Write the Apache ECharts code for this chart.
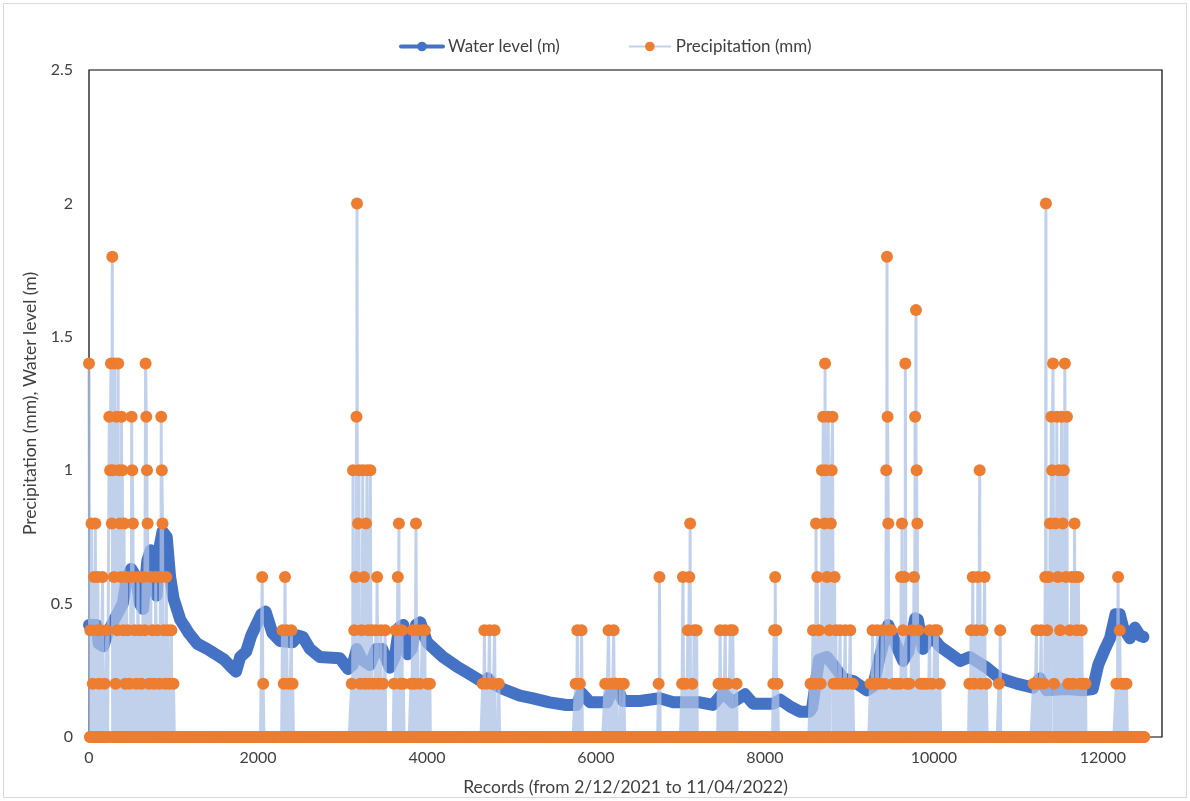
<!DOCTYPE html>
<html><head><meta charset="utf-8">
<script src="https://cdn.jsdelivr.net/npm/echarts@6/dist/echarts.min.js"></script>
<style>
html,body{margin:0;padding:0;background:#fff;}
#frame{position:absolute;left:3px;top:3px;width:1184px;height:795px;border:1px solid #d9d9d9;box-sizing:border-box;}
#chart{position:absolute;left:0;top:0;width:1190px;height:801px;}
</style>
</head><body>
<div id="frame"></div>
<div id="chart"></div>
<script>
// ---- Data ----
const seriesNames = ['Water level (m)', 'Precipitation (mm)'];
const xTitle = 'Records (from 2/12/2021 to 11/04/2022)';
const yTitle = 'Precipitation (mm), Water level (m)';
const lastRecord = 12490;
const zeroRecordStep = 10; // precipitation is 0 on all records not listed below

// Water level (m): [record, value]
const waterLevel = [
[0,0.42],[90,0.42],[115,0.35],[170,0.34],[220,0.39],[300,0.44],[400,0.50],[450,0.60],[500,0.63],[560,0.60],
[600,0.50],[640,0.48],[690,0.66],[730,0.70],[770,0.56],[800,0.53],[840,0.72],[870,0.77],[920,0.75],[960,0.60],
[1000,0.52],[1080,0.44],[1180,0.39],[1280,0.35],[1400,0.33],[1500,0.31],[1600,0.29],[1690,0.26],[1740,0.245],
[1790,0.30],[1860,0.32],[1920,0.38],[1980,0.42],[2040,0.46],[2090,0.47],[2130,0.43],[2170,0.39],[2260,0.36],
[2410,0.355],[2480,0.38],[2530,0.375],[2615,0.33],[2730,0.30],[2970,0.295],[3065,0.255],[3120,0.27],[3170,0.33],
[3230,0.29],[3325,0.27],[3400,0.33],[3470,0.33],[3560,0.26],[3620,0.30],[3670,0.41],[3720,0.42],[3770,0.31],
[3820,0.33],[3870,0.42],[3920,0.43],[4000,0.355],[4190,0.30],[4350,0.265],[4510,0.235],[4665,0.205],[4720,0.22],
[4780,0.20],[4900,0.18],[5100,0.155],[5255,0.145],[5450,0.13],[5650,0.12],[5770,0.12],[5830,0.165],[5930,0.13],
[6130,0.13],[6225,0.20],[6320,0.135],[6520,0.135],[6755,0.145],[6915,0.13],[7230,0.13],[7385,0.12],[7505,0.165],
[7620,0.13],[7765,0.16],[7860,0.125],[8095,0.125],[8180,0.14],[8295,0.115],[8415,0.095],[8530,0.095],[8560,0.11],
[8640,0.29],[8735,0.30],[8810,0.27],[8925,0.22],[9045,0.21],[9205,0.175],[9280,0.19],[9360,0.30],[9460,0.42],
[9560,0.34],[9635,0.285],[9700,0.32],[9780,0.445],[9810,0.44],[9870,0.33],[9970,0.38],[10070,0.34],[10310,0.285],
[10425,0.30],[10625,0.26],[10780,0.22],[10980,0.20],[11175,0.185],[11255,0.22],[11335,0.175],[11570,0.18],
[11765,0.175],[11880,0.18],[11945,0.27],[12025,0.33],[12085,0.37],[12150,0.46],[12200,0.46],[12240,0.41],
[12320,0.37],[12380,0.41],[12440,0.38],[12480,0.375]
];

// Precipitation (mm): non-zero records [record, value]
const precipEvents = [
[0,1.4],[15,0.4],[30,0.8],[45,0.2],[60,0.6],[75,0.8],[90,0.4],[105,0.6],[120,0.2],[135,0.4],[160,0.6],[185,0.2],
[210,0.4],[240,1.2],[250,1.0],[260,1.4],[270,0.8],[276,1.8],[285,1.0],[295,0.6],[305,1.4],[315,0.2],[325,1.2],
[335,0.4],[345,1.4],[355,1.0],[365,0.8],[375,0.6],[385,1.2],[395,1.0],[405,0.4],[415,0.8],[430,0.2],[445,0.6],
[460,0.4],[480,0.2],[495,0.6],[505,1.2],[512,1.0],[520,0.8],[540,0.4],[560,0.2],[580,0.6],[600,0.4],[620,0.2],
[640,0.6],[660,0.4],[670,1.4],[678,1.2],[686,1.0],[694,0.8],[710,0.2],[730,0.6],[750,0.4],[770,0.2],[790,0.6],
[810,0.4],[830,0.2],[845,0.6],[855,1.2],[862,1.0],[870,0.8],[885,0.4],[900,0.2],[915,0.6],[935,0.4],[950,0.2],
[975,0.4],[1000,0.2],
[2050,0.6],[2062,0.2],
[2290,0.4],[2305,0.2],[2320,0.6],[2340,0.4],[2365,0.2],[2395,0.4],[2410,0.2],
[3110,0.2],[3125,1.0],[3140,0.4],[3155,0.6],[3166,1.2],[3172,2.0],[3185,0.8],[3195,1.0],[3210,0.2],[3225,0.4],
[3240,1.0],[3255,0.6],[3268,0.2],[3278,0.8],[3290,1.0],[3302,0.4],[3315,0.2],[3330,1.0],[3345,0.4],[3370,0.2],
[3395,0.4],[3410,0.6],[3430,0.2],[3455,0.4],[3480,0.2],[3505,0.4],
[3610,0.2],[3630,0.4],[3655,0.6],[3668,0.8],[3685,0.2],[3705,0.4],[3720,0.2],
[3810,0.2],[3830,0.4],[3852,0.2],[3870,0.8],[3890,0.4],[3915,0.2],[3945,0.4],[3975,0.4],[4005,0.2],[4035,0.2],
[4660,0.2],[4680,0.4],[4710,0.2],[4740,0.4],[4770,0.2],[4800,0.4],[4850,0.2],
[5760,0.2],[5780,0.4],[5810,0.2],[5830,0.4],
[6110,0.2],[6150,0.4],[6180,0.2],[6210,0.4],[6240,0.2],[6288,0.2],[6330,0.2],
[6742,0.2],[6752,0.6],
[7020,0.2],[7030,0.6],[7060,0.2],[7088,0.4],[7105,0.6],[7115,0.8],[7140,0.2],[7162,0.4],[7192,0.4],
[7450,0.2],[7470,0.4],[7500,0.2],[7530,0.4],[7560,0.2],[7590,0.4],[7620,0.4],[7665,0.2],
[8100,0.2],[8110,0.4],[8122,0.6],[8135,0.4],[8150,0.2],
[8540,0.2],[8570,0.4],[8595,0.2],[8605,0.8],[8620,0.6],[8640,0.4],[8660,0.2],[8675,1.0],[8690,1.2],[8705,0.8],
[8712,1.4],[8722,1.0],[8735,0.6],[8750,1.2],[8765,0.4],[8780,0.8],[8790,1.0],[8800,1.2],[8812,0.2],[8825,0.6],
[8840,0.4],[8860,0.2],[8890,0.4],[8920,0.2],[8950,0.4],[8980,0.2],[9010,0.4],[9040,0.2],
[9250,0.2],[9275,0.4],[9300,0.2],[9330,0.4],[9360,0.2],[9390,0.4],[9420,0.2],[9436,1.0],[9445,1.8],[9452,1.2],
[9460,0.8],[9475,0.4],[9495,0.4],[9520,0.2],[9560,0.2],
[9600,0.2],[9612,0.6],[9622,0.8],[9635,0.4],[9650,0.6],[9662,1.4],[9680,0.2],[9710,0.2],[9740,0.4],[9765,0.6],
[9778,1.2],[9788,1.6],[9796,1.0],[9804,0.8],[9815,0.4],[9840,0.2],[9880,0.2],[9920,0.2],[9950,0.4],[9980,0.2],
[10010,0.4],[10040,0.4],[10070,0.2],
[10420,0.2],[10440,0.4],[10460,0.6],[10480,0.2],[10500,0.4],[10520,0.6],[10542,1.0],[10555,0.2],[10575,0.4],
[10600,0.6],[10620,0.2],
[10770,0.2],[10785,0.4],
[11180,0.2],[11215,0.4],[11240,0.2],[11270,0.4],[11300,0.2],[11318,0.6],[11326,2.0],[11340,0.4],[11360,0.6],
[11375,0.8],[11390,1.2],[11400,1.0],[11410,1.4],[11422,0.2],[11440,0.8],[11455,1.2],[11468,0.6],[11480,1.0],
[11495,0.4],[11510,1.2],[11525,0.8],[11538,1.0],[11550,1.4],[11562,0.6],[11575,1.2],[11590,0.2],[11610,0.4],
[11630,0.6],[11650,0.2],[11665,0.8],[11676,0.6],[11690,0.4],[11710,0.6],[11730,0.2],[11750,0.4],[11770,0.2],
[11795,0.2],
[12160,0.2],[12180,0.6],[12200,0.4],[12222,0.2],[12250,0.2],[12280,0.2]
];

// ---- Build precipitation series: zero everywhere except listed records ----
const eventRecs = new Set(precipEvents.map(d => d[0]));
const precipSeries = precipEvents.slice();
for (let r = 0; r <= lastRecord; r += zeroRecordStep) {
  if (!eventRecs.has(r)) precipSeries.push([r, 0]);
}
precipSeries.sort((a, b) => a[0] - b[0]);

const FONT = 'Lato, "Open Sans", sans-serif';
const TXT = '#404040';
const chart = echarts.init(document.getElementById('chart'), null, {renderer: 'canvas'});
chart.setOption({
  animation: false,
  backgroundColor: 'transparent',
  textStyle: {fontFamily: FONT},
  legend: {
    top: 33, left: 394,
    itemWidth: 42, itemHeight: 12, itemGap: 68,
    textStyle: {fontFamily: FONT, fontSize: 17, color: TXT},
    data: [
      {name: seriesNames[0], lineStyle: {width: 4}},
      {name: seriesNames[1], lineStyle: {width: 2}}
    ]
  },
  grid: {left: 89, right: 28, top: 70, bottom: 64, show: true, borderColor: '#000', borderWidth: 1.2, backgroundColor: 'transparent'},
  xAxis: {
    type: 'value', min: 0, max: 12700, interval: 2000,
    name: xTitle, nameLocation: 'middle', nameGap: 41,
    nameTextStyle: {fontFamily: FONT, fontSize: 17.5, color: TXT},
    axisLine: {show: false}, axisTick: {show: false}, splitLine: {show: false},
    axisLabel: {fontFamily: FONT, fontSize: 16, color: TXT, margin: 13, showMaxLabel: false,
      formatter: v => String(v)}
  },
  yAxis: {
    type: 'value', min: 0, max: 2.5, interval: 0.5,
    name: yTitle, nameLocation: 'middle', nameGap: 48,
    nameTextStyle: {fontFamily: FONT, fontSize: 17.5, color: TXT},
    axisLine: {show: false}, axisTick: {show: false}, splitLine: {show: false},
    axisLabel: {fontFamily: FONT, fontSize: 16, color: TXT, margin: 16, formatter: v => String(v)}
  },
  series: [
    {
      name: seriesNames[0], type: 'line', data: waterLevel,
      symbol: 'circle', symbolSize: 10, showSymbol: false,
      lineStyle: {color: '#4472C4', width: 12, cap: 'round', join: 'round'},
      itemStyle: {color: '#4472C4'}, z: 2
    },
    {
      name: seriesNames[1], type: 'line', data: precipSeries,
      symbol: 'circle', symbolSize: 12, showSymbol: true, showAllSymbol: true,
      lineStyle: {color: 'rgba(172,193,230,0.75)', width: 3},
      itemStyle: {color: '#ED7D31'}, clip: false, z: 3
    }
  ]
});
</script>
</body></html>
